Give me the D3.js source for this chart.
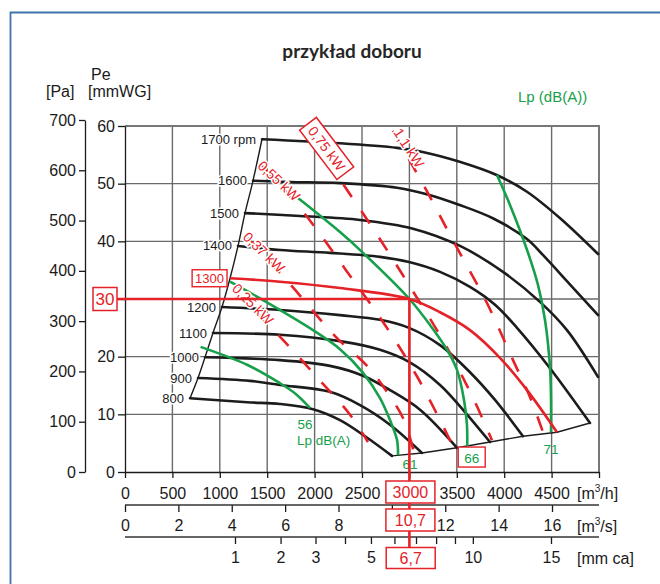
<!DOCTYPE html>
<html><head><meta charset="utf-8">
<script src="https://cdn.jsdelivr.net/npm/d3@7"></script>
<style>body{margin:0;background:#fff}svg{display:block}</style>
</head><body><svg id="c" width="660" height="584"></svg>
<script>
// ---------- data ----------
const flowTicks=[0,500,1000,1500,2000,2500,3000,3500,4000,4500,5000];
const mmwgTicks=[0,10,20,30,40,50,60];
const paTicks=[0,100,200,300,400,500,600,700];
const m3sTicks=[0,2,4,6,8,10,12,14,16];
const mmcaTicks=[1,2,3,4,5,6,7,8,9,10,15];
const mmcaLabels=[1,2,3,5,10,15];
const fanRpm=[800,900,1000,1100,1200,1300,1400,1500,1600,1700];
const rpm800=[[686,12.8],[1287,12.1],[1635,11.8],[1983,10.9],[2268,9.0],[2532,6.2],[2816,2.8]];
const rpm900=[[770,16.3],[1319,15.8],[1635,15.1],[2162,13.9],[2479,11.6],[2795,8.2],[3133,3.3]];
const rpm1000=[[844,19.9],[1635,19.4],[2162,18.4],[2510,16.7],[2795,14.2],[3112,10.8],[3502,4.2]];
const rpm1100=[[928,24.1],[1635,23.8],[2268,22.7],[2690,21.2],[2996,19.1],[3323,15.1],[3586,10.4],[3850,5.2]];
const rpm1200=[[1023,28.6],[1635,28.1],[2268,27.2],[2690,26.4],[2996,25.0],[3323,22.0],[3639,17.3],[3903,12.5],[4198,6.2]];
const rpm1300=[[1108,33.6],[1635,33.0],[2268,31.9],[3000,30.0],[3323,27.7],[3639,24.6],[3955,19.8],[4241,14.2],[4557,6.9]];
const rpm1400=[[1192,39.2],[1635,38.5],[2162,38.0],[2690,37.3],[2996,36.4],[3323,34.7],[3639,32.1],[3903,29.0],[4135,25.0],[4483,18.0],[4905,8.5]];
const rpm1500=[[1266,44.9],[1846,44.4],[2479,43.7],[3038,42.2],[3534,39.2],[3987,34.7],[4377,29.5],[4662,24.6],[4989,16.5]];
const rpm1600=[[1350,50.5],[1740,50.3],[2270,50.1],[2870,49.3],[3220,48.0],[3530,46.3],[3880,44.0],[4240,40.4],[4410,37.6],[4690,32.6],[4990,27.2]];
const rpm1700=[[1445,57.7],[2270,57.0],[2870,56.2],[3140,55.5],[3530,53.8],[3920,51.5],[4240,48.6],[4590,44.0],[4990,37.8]];
const fanCurves=[rpm800,rpm900,rpm1000,rpm1100,rpm1200,rpm1300,rpm1400,rpm1500,rpm1600,rpm1700];
const lpValues=[56,61,66,71];
const lp56=[[797,21.7],[1287,18.6],[1635,15.4],[1804,13.5],[1951,11.1]];
const lp61=[[1108,33.0],[1456,29.8],[1983,24.6],[2268,21.3],[2511,17.2],[2690,12.8],[2795,9.0],[2869,5.6],[2880,2.9]];
const lp66=[[1825,47.5],[2268,41.6],[2511,38.0],[3000,30.0],[3217,25.5],[3397,21.2],[3502,17.7],[3576,12.5],[3607,8.2],[3610,4.5]];
const lp71=[[3924,51.5],[4061,46.3],[4241,38.5],[4357,32.4],[4430,26.4],[4483,18.2],[4494,12.5],[4494,6.9]];
const lpCurves=[lp56,lp61,lp66,lp71];
const kwNames=["0,25 kW","0,37 kW","0,55 kW","0,75 kW","1,1 kW"];
const kw025=[[1097,32.4],[1656,23.1],[2120,14.7],[2362,10.2],[2563,5.2]];
const kw037=[[1255,41.3],[1740,32.6],[2226,23.4],[2553,18.4],[2764,13.9],[2943,9.0],[3048,3.4]];
const kw055=[[1403,53.8],[1846,45.8],[2331,35.0],[2743,25.5],[3090,16.3],[3459,4.5]];
const kw075=[[1898,60],[2278,50.5],[2669,40.9],[3027,31.6],[3375,22.2],[3681,12.5],[3871,5.5]];
const kw11=[[2795,60],[3164,49.3],[3481,39.5],[3818,29.3],[4093,19.4],[4272,13.0],[4409,6.9]];
const kwLines=[kw025,kw037,kw055,kw075,kw11];
const kwLabelAt=[[1350,29.1],[1466,38.1],[1624,50.5],[2127,56.1],[2996,56.2]];
const opFlow=3000, opPress=30, opRpm=1300, opLp=66;
const opFlowS="10,7", opFlowSTick=10, opMmca=6.7, opMmcaText="6,7";

// ---------- setup ----------
const svg=d3.select("#c");
const x=d3.scaleLinear([0,5000],[125,599]);
const y=d3.scaleLinear([0,60],[472,126]);
const yPa=d3.scaleLinear([0,700],[472,120]);
const xS=d3.scaleLinear([0,16],[125,552]);
const xC=d3.scaleSqrt([0,15],[125,551]);
const RED="#e52228", GREEN="#17a04c", BLACK="#1c1c1c", GRID="#6a6a6a";
const FONT="'Liberation Sans', Arial, Helvetica, sans-serif";
const path=d3.line().x(d=>x(d[0])).y(d=>y(d[1])).curve(d3.curveCatmullRom.alpha(0.5));

// frame
svg.append("path").attr("d","M10.5,584 V12.5 H660").attr("fill","none").attr("stroke","#3f74ab").attr("stroke-width",1.8);

// title & headers
svg.append("text").attr("x",352).attr("y",58).attr("text-anchor","middle")
  .attr("font-family","Lato, 'Open Sans', sans-serif").attr("font-weight",700).attr("font-size",19).attr("fill","#262626").text("przykład doboru");
const hdr=svg.append("g").attr("font-family",FONT).attr("font-size",16).attr("fill","#1a1a1a");
hdr.append("text").attr("x",91).attr("y",80).text("Pe");
hdr.append("text").attr("x",46).attr("y",97).text("[Pa]");
hdr.append("text").attr("x",88).attr("y",97).text("[mmWG]");
svg.append("text").attr("x",518).attr("y",102).attr("font-family",FONT).attr("font-size",15).attr("fill",GREEN).text("Lp (dB(A))");

// gridlines
const grid=svg.append("g").attr("stroke",GRID).attr("stroke-width",1.4);
grid.selectAll(".gv").data(flowTicks.filter(d=>d>0&&d<5000)).join("line")
  .attr("x1",d=>x(d)).attr("x2",d=>x(d)).attr("y1",y(60)).attr("y2",y(0));
grid.selectAll(".gh").data(mmwgTicks.filter(d=>d>0&&d<60)).join("line")
  .attr("y1",d=>y(d)).attr("y2",d=>y(d)).attr("x1",x(0)).attr("x2",x(5000));
svg.append("path").attr("d",`M${x(0)},${y(60)} H${x(5000)} V${y(0)}`).attr("fill","none").attr("stroke","#777").attr("stroke-width",2);

// axes
function styleAxis(g,size){
  g.selectAll("text").attr("font-family",FONT).attr("font-size",size).attr("fill","#1a1a1a");
  g.selectAll("line,path").attr("stroke","#1a1a1a").attr("stroke-width",1.3);
}
const axMm=svg.append("g").attr("transform",`translate(${x(0)},0)`)
  .call(d3.axisLeft(y).tickValues(mmwgTicks).tickSize(7).tickSizeOuter(0).tickPadding(3).tickFormat(d=>d===opPress?"":d));
styleAxis(axMm,16);
const axPa=svg.append("g").attr("transform","translate(85,0)")
  .call(d3.axisLeft(yPa).tickValues(paTicks).tickSize(6).tickSizeOuter(0).tickPadding(3));
styleAxis(axPa,16);
const axQ=svg.append("g").attr("transform",`translate(0,${y(0)})`)
  .call(d3.axisBottom(x).tickValues(flowTicks).tickSize(6).tickSizeOuter(0).tickPadding(10).tickFormat(d=>(d===5000||d===opFlow)?"":d));
styleAxis(axQ,16);
const axS=svg.append("g").attr("transform","translate(0,505)")
  .call(d3.axisBottom(xS).tickValues(m3sTicks).tickSize(7).tickSizeOuter(0).tickPadding(8).tickFormat(d=>d===opFlowSTick?"":d));
styleAxis(axS,16);
axS.select(".domain").remove();
axS.append("line").attr("x1",x(0)).attr("x2",x(5000)).attr("stroke","#333").attr("stroke-width",1.6);
const axC=svg.append("g").attr("transform","translate(0,537)")
  .call(d3.axisBottom(xC).tickValues(mmcaTicks).tickSize(7).tickSizeOuter(0).tickPadding(8).tickFormat(d=>mmcaLabels.includes(d)?d:""));
styleAxis(axC,16);
axC.select(".domain").remove();
axC.append("line").attr("x1",x(0)).attr("x2",x(5000)).attr("stroke","#333").attr("stroke-width",1.6);
function unit(yy,a,sup,b){
  const t=svg.append("text").attr("x",577).attr("y",yy).attr("font-family",FONT).attr("font-size",16).attr("fill","#1a1a1a");
  t.append("tspan").text(a);
  if(sup){t.append("tspan").attr("font-size",10).attr("dy",-7).text(sup);
  t.append("tspan").attr("dy",7).text(b);}
}
unit(499,"[m","3","/h]");
unit(532,"[m","3","/s]");
unit(564,"[mm ca]");

// fan curves
const fans=svg.append("g").attr("fill","none").attr("stroke-linecap","round");
fans.selectAll("path").data(fanCurves).join("path")
  .attr("d",path).attr("stroke",(d,i)=>fanRpm[i]===opRpm?"none":BLACK).attr("stroke-width",2.6);
const bLine=d3.line().x(d=>x(d[0])).y(d=>y(d[1])).curve(d3.curveCatmullRom);
svg.append("path").attr("d",bLine(fanCurves.map(c=>c[0]))).attr("fill","none").attr("stroke",BLACK).attr("stroke-width",1.4);
svg.append("path").attr("d",d3.line().x(d=>x(d[0])).y(d=>y(d[1]))(fanCurves.slice(0,7).map(c=>c[c.length-1]))).attr("fill","none").attr("stroke",BLACK).attr("stroke-width",1.4);

// kW dashed lines
svg.append("g").selectAll("path").data(kwLines).join("path").attr("d",path)
  .attr("fill","none").attr("stroke",RED).attr("stroke-width",2.6).attr("stroke-dasharray","15,17").attr("stroke-dashoffset",-6);

// green Lp
svg.append("g").selectAll("path").data(lpCurves).join("path").attr("d",path)
  .attr("fill","none").attr("stroke",GREEN).attr("stroke-width",2.6);

// red operating curve
svg.append("path").attr("d",path(fanCurves[fanRpm.indexOf(opRpm)])).attr("fill","none").attr("stroke",RED).attr("stroke-width",2.6);

// rpm labels
const rl=svg.append("g").attr("font-family",FONT).attr("font-size",13).attr("text-anchor","end");
fanCurves.forEach((c,i)=>{
  const r=fanRpm[i], px=x(c[0][0]), py=y(c[0][1]);
  const t=rl.append("text").attr("x",px-6).attr("y",py+4.5)
    .attr("fill",r===opRpm?RED:"#1a1a1a").attr("stroke","#fff").attr("stroke-width",3).attr("paint-order","stroke")
    .text(r===1700?r+" rpm":r);
  if(r===opRpm){
    const bb=t.node().getBBox();
    rl.insert("rect","text").attr("x",bb.x-3).attr("y",bb.y-1).attr("width",bb.width+6).attr("height",bb.height+2)
      .attr("fill","#fff").attr("stroke",RED).attr("stroke-width",1.4);
  }
});

// kW labels
const kwAng=[45,44,43,53,57];
kwNames.forEach((n,i)=>{
  const g=svg.append("g").attr("transform",`translate(${x(kwLabelAt[i][0])},${y(kwLabelAt[i][1])}) rotate(${kwAng[i]})`);
  if(i===3){
    g.append("rect").attr("x",-31).attr("y",-10.5).attr("width",62).attr("height",21).attr("fill","#fff").attr("stroke",RED).attr("stroke-width",1.5);
  }
  g.append("text").attr("text-anchor","middle").attr("y",5).attr("font-family",FONT).attr("font-size",14)
    .attr("fill",RED).attr("stroke",i===3?"none":"#fff").attr("stroke-width",3).attr("paint-order","stroke").text(n);
});

// Lp labels
const lpLab=svg.append("g").attr("font-family",FONT).attr("font-size",13.5).attr("fill",GREEN).attr("text-anchor","middle");
const e56=lp56[lp56.length-1], e61=lp61[lp61.length-1], e66=lp66[lp66.length-1], e71=lp71[lp71.length-1];
lpLab.append("text").attr("x",x(e56[0])-5).attr("y",y(e56[1])+21).text(lpValues[0]);
lpLab.append("text").attr("x",x(e56[0])-13).attr("y",y(e56[1])+37).attr("text-anchor","start").text("Lp dB(A)");
lpLab.append("text").attr("x",x(e61[0])+12).attr("y",y(e61[1])+14).text(lpValues[1]);
lpLab.append("rect").attr("x",x(e66[0])-9).attr("y",y(e66[1])+1).attr("width",27).attr("height",20).attr("fill","#fff").attr("stroke",RED).attr("stroke-width",1.4);
lpLab.append("text").attr("x",x(e66[0])+4.5).attr("y",y(e66[1])+16.5).text(lpValues[2]);
lpLab.append("text").attr("x",x(e71[0])).attr("y",y(e71[1])+22).text(lpValues[3]);

// operating point lines
const ox=x(opFlow), oy=y(opPress);
svg.append("line").attr("x1",117).attr("x2",ox).attr("y1",oy).attr("y2",oy).attr("stroke",RED).attr("stroke-width",2.6);
svg.append("line").attr("x1",ox).attr("x2",ox).attr("y1",oy).attr("y2",548).attr("stroke",RED).attr("stroke-width",2.6);
function redBox(cx,cy,w,h,txt,fs){
  svg.append("rect").attr("x",cx-w/2).attr("y",cy-h/2).attr("width",w).attr("height",h).attr("fill","#fff").attr("stroke",RED).attr("stroke-width",1.5);
  svg.append("text").attr("x",cx).attr("y",cy+fs*0.36).attr("text-anchor","middle").attr("font-family",FONT).attr("font-size",fs).attr("fill",RED).text(txt);
}
redBox(105,oy,24,23,String(opPress),17);
redBox(ox+1,492,49,22,String(opFlow),16);
redBox(ox+1,520,49,22,opFlowS,16);
redBox(xC(opMmca)+1,558,49,21,opMmcaText,16);
</script></body></html>
